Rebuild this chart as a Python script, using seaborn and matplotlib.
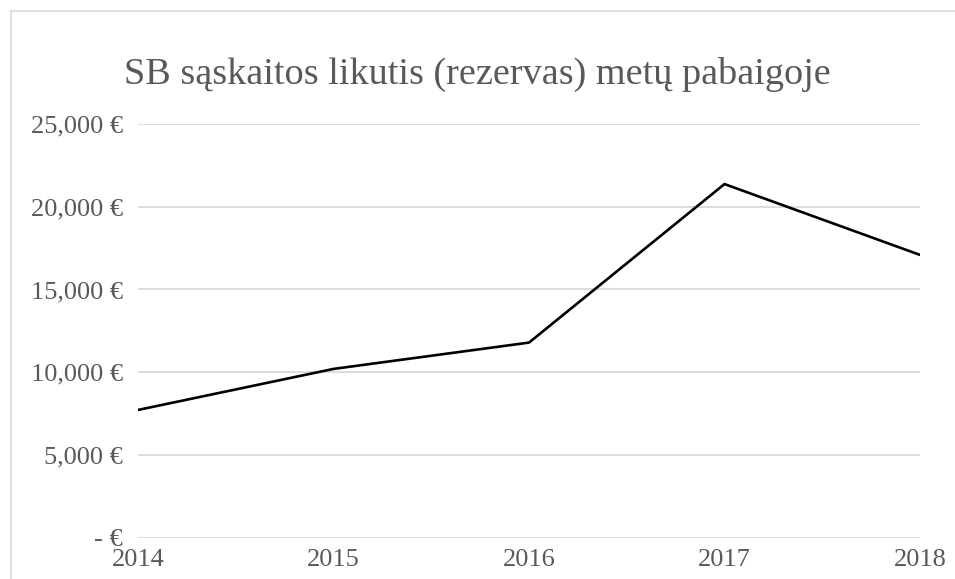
import matplotlib
matplotlib.use("Agg")
import matplotlib.pyplot as plt
import seaborn as sns
import pandas as pd
from matplotlib.lines import Line2D

years = ["2014", "2015", "2016", "2017", "2018"]
balance = [7720, 10200, 11790, 21370, 17090]
y_ticks = [0, 5000, 10000, 15000, 20000, 25000]
y_labels = ["- €", "5,000 €", "10,000 €", "15,000 €", "20,000 €", "25,000 €"]
title = "SB sąskaitos likutis (rezervas) metų pabaigoje"

sns.set_theme(style="white")
plt.rcParams["font.family"] = ["Liberation Serif", "DejaVu Serif"]

df = pd.DataFrame({"year": list(range(len(years))), "balance": balance})

fig = plt.figure(figsize=(9.55, 5.79), dpi=100)
W, H = 955, 579
ax = fig.add_axes([138 / W, 1 - 537.7 / H, (920 - 138) / W, (537.7 - 124) / H])

# chart area frame (cut off at right/bottom)
fig.add_artist(Line2D([10.5 / W, 10.5 / W], [0, 1 - 10.5 / H], transform=fig.transFigure,
                      color="#d9d9d9", linewidth=1.2))
fig.add_artist(Line2D([10.5 / W, 1], [1 - 10.5 / H, 1 - 10.5 / H], transform=fig.transFigure,
                      color="#d9d9d9", linewidth=1.2))

sns.lineplot(data=df, x="year", y="balance", ax=ax, color="black", linewidth=1.9)

ax.set_xlim(0, len(years) - 1)
ax.set_ylim(0, 25000)
ax.set_yticks(y_ticks)
ax.set_yticklabels(y_labels)
ax.set_xticks(range(len(years)))
ax.set_xticklabels(years)
ax.grid(axis="y", color="#d9d9d9", linewidth=1.3)
ax.grid(axis="x", visible=False)
for s in ax.spines.values():
    s.set_visible(False)
ax.tick_params(axis="y", length=0, pad=11, labelsize=19, labelcolor="#595959")
ax.tick_params(axis="x", length=0, pad=8, labelsize=19, labelcolor="#595959")
ax.set_xlabel("")
ax.set_ylabel("")
fig.text(0.5, 1 - 74 / H, title, ha="center", va="center", fontsize=27.5, color="#595959")

fig.savefig("out.png", dpi=100)
